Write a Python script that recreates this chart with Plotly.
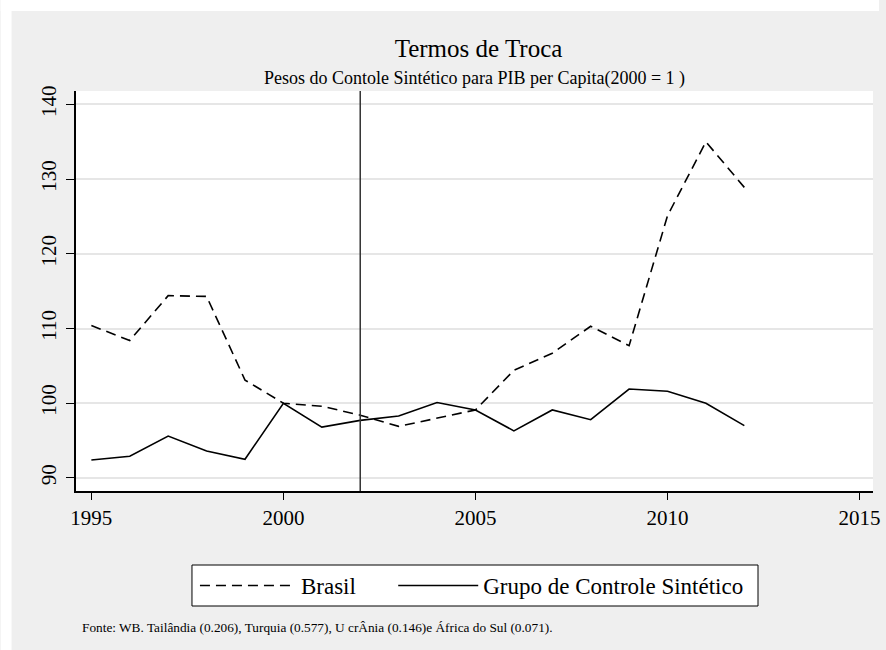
import plotly.graph_objects as go

years = list(range(1995, 2013))
brasil = [110.4, 108.4, 114.4, 114.3, 103.1, 100.0, 99.6, 98.4, 96.9, 98.0,
          99.1, 104.4, 106.7, 110.3, 107.7, 125.1, 135.0, 128.9]
sintetico = [92.4, 92.9, 95.6, 93.6, 92.5, 100.0, 96.8, 97.7, 98.3, 100.1,
             99.1, 96.3, 99.1, 97.8, 101.9, 101.6, 100.0, 97.0]
x_ticks = [1995, 2000, 2005, 2010, 2015]
y_ticks = [90, 100, 110, 120, 130, 140]
treat_year = 2002

title = "Termos de Troca"
subtitle = "Pesos do Contole Sintético para PIB per Capita(2000 = 1 )"
footer = "Fonte: WB. Tailândia (0.206), Turquia (0.577), U crÂnia (0.146)e África do Sul (0.071)."

FONT = "Liberation Serif, Times New Roman, serif"
W, H = 886, 650
L, R, T, B = 76, 880, 91, 491

def px_x(p):
    return (p - L) / (R - L)

def px_y(p):
    return (B - p) / (B - T)

fig = go.Figure()
fig.add_trace(go.Scatter(x=years, y=brasil, mode="lines", name="Brasil",
                         legend="legend",
                         line=dict(color="black", width=1.6, dash="10px,6px")))
fig.add_trace(go.Scatter(x=years, y=sintetico, mode="lines",
                         name="Grupo de Controle Sintético", legend="legend2",
                         line=dict(color="black", width=1.6)))

fig.add_shape(type="line", xref="x", yref="paper", x0=treat_year, x1=treat_year,
              y0=0, y1=1, line=dict(color="#333333", width=1.5))
# white outer strips (top / left)
fig.add_shape(type="rect", xref="paper", yref="paper", layer="below",
              x0=px_x(0), x1=px_x(W), y0=px_y(0), y1=px_y(11),
              fillcolor="white", line=dict(width=0))
fig.add_shape(type="rect", xref="paper", yref="paper", layer="below",
              x0=px_x(0), x1=px_x(11), y0=px_y(0), y1=px_y(H),
              fillcolor="white", line=dict(width=0))
# legend box
fig.add_shape(type="rect", xref="paper", yref="paper", layer="below",
              x0=px_x(193), x1=px_x(764), y0=px_y(606), y1=px_y(565),
              fillcolor="white", line=dict(color="black", width=1))

fig.add_annotation(text=subtitle, xref="paper", yref="paper", x=px_x(478), y=px_y(78),
                   xanchor="center", yanchor="middle", showarrow=False,
                   font=dict(family=FONT, size=18, color="black"))
fig.add_annotation(text=footer, xref="paper", yref="paper", x=px_x(80), y=px_y(627),
                   xanchor="left", yanchor="middle", showarrow=False,
                   font=dict(family=FONT, size=13.3, color="black"))

leg_common = dict(orientation="h", yanchor="middle", y=px_y(585.5),
                  bgcolor="rgba(0,0,0,0)", borderwidth=0, xanchor="left",
                  font=dict(family=FONT, size=23, color="black"))

fig.update_layout(
    width=W, height=H,
    margin=dict(l=L, r=W - R, t=T, b=H - B),
    paper_bgcolor="#efefef", plot_bgcolor="white",
    title=dict(text=title, x=478.5 / W, xanchor="center",
               y=1 - 48 / H, yanchor="middle",
               font=dict(family=FONT, size=25, color="black")),
    font=dict(family=FONT, color="black"),
    showlegend=True,
    legend=dict(x=px_x(196), itemwidth=96, **leg_common),
    legend2=dict(x=px_x(396), itemwidth=80, **leg_common),
    xaxis=dict(range=[1994.6, 2015.35], tickvals=x_ticks, showgrid=False,
               zeroline=False, showline=True, linecolor="black", linewidth=1.5,
               ticks="outside", ticklen=7, tickcolor="black", tickwidth=1,
               ticklabeloverflow="allow",
               tickfont=dict(family=FONT, size=21, color="black")),
    yaxis=dict(range=[88.25, 141.8], tickvals=y_ticks, showgrid=True,
               gridcolor="#e6e6e6", gridwidth=1.5, zeroline=False, showline=True,
               linecolor="black", linewidth=1.5, ticks="outside", ticklen=8,
               tickcolor="black", tickwidth=1, tickangle=-90,
               ticklabelstandoff=2,
               tickfont=dict(family=FONT, size=21, color="black")),
)

fig.write_html("out.html", config={"displayModeBar": False},
               post_script="document.body.style.margin='0';document.body.style.overflow='hidden';")
